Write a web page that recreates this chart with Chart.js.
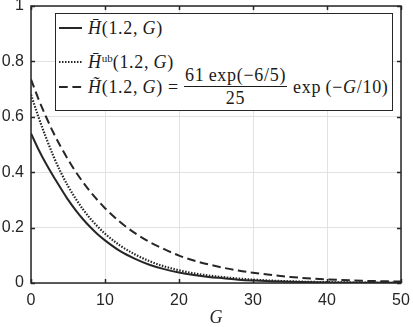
<!DOCTYPE html>
<html>
<head>
<meta charset="utf-8">
<script src="https://cdn.jsdelivr.net/npm/chart.js@4"></script>
<style>
  body { margin: 0; background: #fff; }
  #wrap { position: relative; width: 413px; height: 327px; }
  #legend { position: absolute; left: 55px; top: 13px; width: 338px; height: 98px;
            box-sizing: border-box; border: 1.5px solid #262626; background: #fff; }
  .row { position: absolute; left: 59px; height: 0; display: flex; align-items: center;
         white-space: nowrap; font-family: 'Liberation Serif', 'DejaVu Serif', serif;
         font-size: 18px; letter-spacing: 0.7px; color: #1a1a1a; }
  .row svg { margin-right: 6px; }
  .i { font-style: italic; }
  .frac { display: inline-flex; flex-direction: column; align-items: center; margin: 0 6px 0 5px; }
  .frac .num { border-bottom: 1.2px solid #1a1a1a; padding: 0 1px 1px; line-height: 1.05; }
  .frac .den { line-height: 1.05; padding-top: 2px; }
  sup { font-size: 11px; font-style: normal; vertical-align: 6px; line-height: 0; letter-spacing: 0; }
</style>
</head>
<body>
<div id="wrap">
  <canvas id="chart" width="413" height="327"></canvas>
  <div id="legend"></div>
  <div class="row" style="top:28px">
    <svg width="23" height="4"><line x1="0" y1="2" x2="23" y2="2" stroke="#262626" stroke-width="2"/></svg>
    <span><span class="i">H&#772;</span>(1.2,&thinsp;<span class="i">G</span>)</span>
  </div>
  <div class="row" style="top:62px">
    <svg width="23" height="4"><line x1="0" y1="2" x2="23" y2="2" stroke="#262626" stroke-width="2" stroke-dasharray="1.5 1.5"/></svg>
    <span><span class="i">H&#772;</span><sup>ub</sup>(1.2,&thinsp;<span class="i">G</span>)</span>
  </div>
  <div class="row" style="top:87px">
    <svg width="23" height="4"><line x1="0" y1="2" x2="23" y2="2" stroke="#262626" stroke-width="2" stroke-dasharray="8.7 4.7"/></svg>
    <span><span class="i">H&#771;</span>(1.2,&thinsp;<span class="i">G</span>)&nbsp;=</span>
    <span class="frac"><span class="num">61&thinsp;exp(&minus;6/5)</span><span class="den">25</span></span>
    <span>exp&thinsp;(&minus;<span class="i">G</span>/10)</span>
  </div>
</div>
<script>
// values
const gValues = [0, 1, 2, 3, 4, 5, 6, 7, 8, 9, 10, 12, 14, 16, 18, 20, 22, 24, 26, 28, 30, 35, 40, 45, 50];
const hBar = [0.540, 0.483, 0.432, 0.386, 0.343, 0.301, 0.264, 0.231, 0.202, 0.176, 0.154, 0.116, 0.088, 0.066, 0.050, 0.038, 0.029, 0.022, 0.017, 0.012, 0.009, 0.0045, 0.0022, 0.001, 0.0005];
const hBarUb = [0.680, 0.600, 0.527, 0.460, 0.401, 0.350, 0.306, 0.267, 0.233, 0.204, 0.178, 0.136, 0.104, 0.079, 0.060, 0.046, 0.035, 0.027, 0.021, 0.016, 0.012, 0.006, 0.003, 0.0015, 0.0008];
const hTilde = [0.735, 0.665, 0.602, 0.544, 0.493, 0.446, 0.403, 0.365, 0.330, 0.299, 0.270, 0.221, 0.181, 0.148, 0.122, 0.099, 0.081, 0.067, 0.055, 0.045, 0.037, 0.022, 0.013, 0.008, 0.005];

const xTicks = [0, 10, 20, 30, 40, 50];
const xTickLabels = ['0', '10', '20', '30', '40', '50'];
const yTicks = [0, 0.2, 0.4, 0.6, 0.8, 1];
const yTickLabels = ['0', '0.2', '0.4', '0.6', '0.8', '1'];
const xTitle = 'G';

const axisColor = '#262626';
const tickFont = { family: "'Liberation Sans', Arial, sans-serif", size: 16 };

function serie(ys) {
    return gValues.map((g, i) => ({ x: g, y: ys[i] }));
}

// caixa dos eixos com marcas para dentro (estilo matlab)
const caixa = {
    id: 'caixa',
    afterDatasetsDraw(chart) {
        const { ctx, chartArea: a, scales: { x, y } } = chart;
        ctx.save();
        ctx.strokeStyle = axisColor;
        ctx.lineWidth = 1.5;
        ctx.beginPath();
        for (let v of xTicks) {
            let px = Math.round(x.getPixelForValue(v)) + 0.5;
            ctx.moveTo(px, a.bottom); ctx.lineTo(px, a.bottom - 4);
            ctx.moveTo(px, a.top); ctx.lineTo(px, a.top + 4);
        }
        for (let v of yTicks) {
            let py = Math.round(y.getPixelForValue(v)) + 0.5;
            ctx.moveTo(a.left, py); ctx.lineTo(a.left + 4, py);
            ctx.moveTo(a.right, py); ctx.lineTo(a.right - 4, py);
        }
        ctx.stroke();
        ctx.strokeRect(a.left, a.top, a.right - a.left, a.bottom - a.top);
        ctx.restore();
    }
};

new Chart(document.getElementById('chart'), {
    type: 'line',
    data: {
        datasets: [
            { data: serie(hBar), borderColor: axisColor, borderWidth: 2 },
            { data: serie(hBarUb), borderColor: axisColor, borderWidth: 2.2, borderDash: [1.5, 1.5] },
            { data: serie(hTilde), borderColor: axisColor, borderWidth: 2, borderDash: [8.5, 4.5] }
        ]
    },
    options: {
        responsive: false,
        animation: false,
        layout: { padding: { left: 0, right: 12, top: 6, bottom: 0 } },
        elements: { point: { radius: 0 }, line: { cubicInterpolationMode: 'monotone', fill: false } },
        plugins: { legend: { display: false }, tooltip: { enabled: false } },
        scales: {
            x: {
                type: 'linear', min: 0, max: 50,
                afterBuildTicks: s => { s.ticks = xTicks.map(v => ({ value: v })); },
                afterFit: s => { s.height = 44; s.paddingLeft = 0; s.paddingRight = 0; },
                grid: { color: '#e2e2e2', lineWidth: 1, drawTicks: false },
                border: { display: false },
                ticks: { padding: 8, color: axisColor, font: tickFont, maxRotation: 0,
                         callback: (v, i) => xTickLabels[i] },
                title: { display: true, text: xTitle, color: axisColor, padding: 0,
                         font: { family: "'Liberation Serif', serif", style: 'italic', size: 18, lineHeight: 1 } }
            },
            y: {
                min: 0, max: 1,
                afterBuildTicks: s => { s.ticks = yTicks.map(v => ({ value: v })); },
                afterFit: s => { s.width = 31; s.paddingTop = 0; s.paddingBottom = 0; },
                grid: { color: '#e2e2e2', lineWidth: 1, drawTicks: false },
                border: { display: false },
                ticks: { padding: 7, color: axisColor, font: tickFont,
                         callback: (v, i) => yTickLabels[i] }
            }
        }
    },
    plugins: [caixa]
});
</script>
</body>
</html>
